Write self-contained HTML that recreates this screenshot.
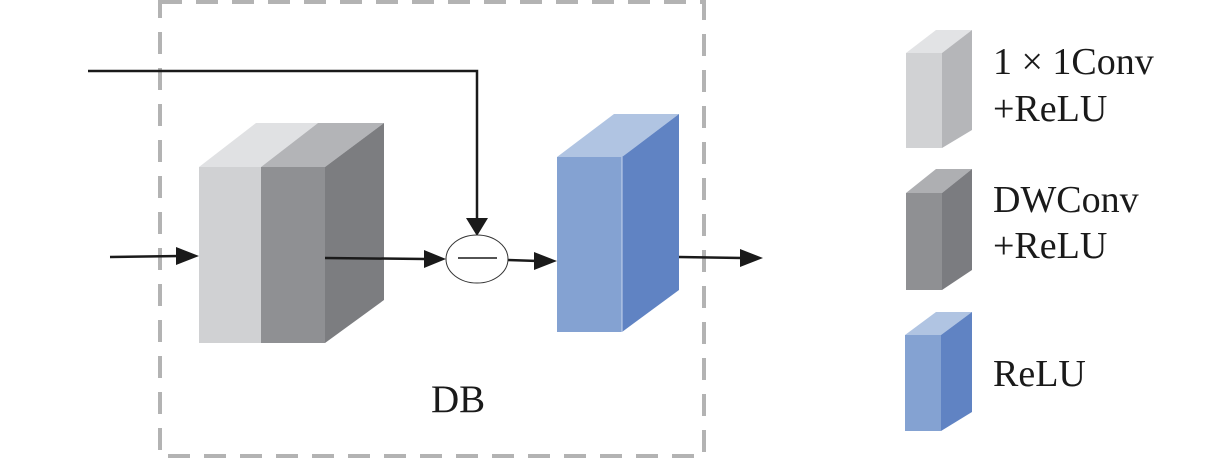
<!DOCTYPE html>
<html><head><meta charset="utf-8"><style>body{margin:0;background:#fff}svg{display:block}</style></head>
<body>
<svg width="1228" height="461" viewBox="0 0 1228 461" xmlns="http://www.w3.org/2000/svg">
<rect x="160" y="2" width="544" height="454" fill="none" stroke="#b3b3b3" stroke-width="4" stroke-dasharray="22,14"/>
<!-- big block -->
<polygon points="199,167 261,167 318,123 256,123" fill="#e0e1e3"/>
<polygon points="261,167 325,167 384,123 318,123" fill="#b3b4b7"/>
<rect x="199" y="167" width="62" height="176" fill="#d0d1d3"/>
<rect x="261" y="167" width="64" height="176" fill="#8f9093"/>
<polygon points="325,167 384,123 384,300 325,343" fill="#7c7d80"/>
<!-- blue block -->
<polygon points="557,157 622,157 679,114 614,114" fill="#b0c4e2"/>
<rect x="557" y="157" width="65" height="175" fill="#84a2d2"/>
<polygon points="622,157 679,114 679,290 622,332" fill="#6083c3"/>
<line x1="622" y1="157" x2="622" y2="332" stroke="#c9d6ee" stroke-width="1"/>
<!-- arrows -->
<g stroke="#1a1a1a" stroke-width="2.5" fill="none">
<polyline points="88,71 477,71 477,220"/>
<line x1="110" y1="257" x2="180" y2="256"/>
<line x1="325" y1="258" x2="425" y2="259"/>
<line x1="507" y1="260" x2="538" y2="261"/>
<line x1="679" y1="257" x2="742" y2="258"/>
</g>
<g fill="#1a1a1a">
<polygon points="466,218 488,218 477,236"/>
<polygon points="176,247 176,265 199,256"/>
<polygon points="424,250 424,268 446,259"/>
<polygon points="534,252 534,270 557,261"/>
<polygon points="740,249 740,267 763,258"/>
</g>
<ellipse cx="477" cy="259" rx="31" ry="24" fill="#fff" stroke="#333" stroke-width="1"/>
<line x1="458" y1="258" x2="497" y2="258" stroke="#1a1a1a" stroke-width="1.5"/>
<text x="431" y="412" font-family="Liberation Serif, serif" font-size="39" fill="#1a1a1a">DB</text>
<!-- legend -->
<polygon points="906,53 942,53 972,30 936,30" fill="#e2e3e5"/>
<rect x="906" y="53" width="36" height="95" fill="#d1d2d4"/>
<polygon points="942,53 972,30 972,130 942,148" fill="#b5b6b9"/>
<polygon points="906,193 942,193 972,169 936,169" fill="#aeafb2"/>
<rect x="906" y="193" width="36" height="97" fill="#8f9093"/>
<polygon points="942,193 972,169 972,270 942,290" fill="#7b7c80"/>
<polygon points="905,335 941,335 972,312 936,312" fill="#b0c4e2"/>
<rect x="905" y="335" width="36" height="96" fill="#84a2d2"/>
<polygon points="941,335 972,312 972,412 941,431" fill="#6083c3"/>
<g font-family="Liberation Serif, serif" font-size="38" fill="#1a1a1a">
<text x="993" y="74">1 × 1Conv</text>
<text x="993" y="121">+ReLU</text>
<text x="993" y="212">DWConv</text>
<text x="993" y="258">+ReLU</text>
<text x="993" y="386">ReLU</text>
</g>
</svg>
</body></html>
